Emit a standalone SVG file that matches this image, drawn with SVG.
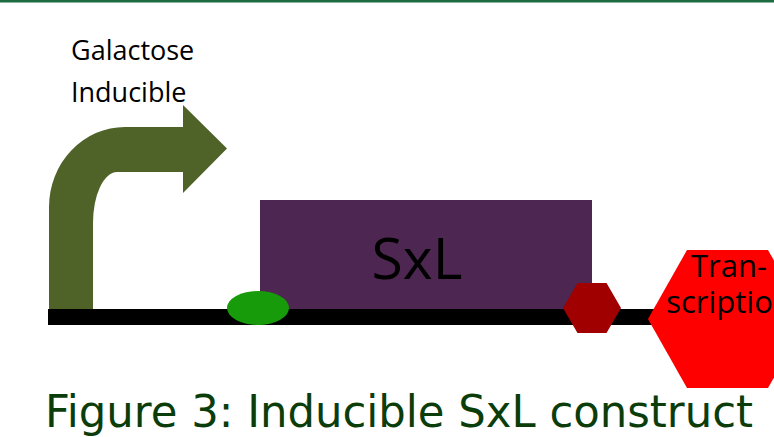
<svg xmlns="http://www.w3.org/2000/svg" width="774" height="437" viewBox="0 0 774 437">
  <style>
    .lbl { font-family: "Open Sans", "Noto Sans", "DejaVu Sans", sans-serif; fill: #000; }
    .cap { font-family: "DejaVu Sans", "Liberation Sans", sans-serif; fill: #0b3d0b; }
  </style>
  <rect width="774" height="437" fill="#fff"/>
  <!-- header rule -->
  <rect x="0" y="0" width="774" height="2.5" fill="#1d6b40"/>

  <!-- bent promoter arrow -->
  <g id="promoter">
    <path d="M49 310 L49 207 A76 80 0 0 1 125 127 L183 127 L183 105 L227 148.5 L183 193 L183 172 L117 172 A24 51 0 0 0 93 223 L93 310 Z" fill="#4f6228"/>
    <text class="lbl" x="71" y="60" font-size="27">Galactose</text>
    <text class="lbl" x="71" y="102" font-size="27">Inducible</text>
  </g>

  <!-- coding sequence -->
  <g id="sxl">
    <rect x="260" y="200" width="332" height="117" fill="#4d2752"/>
    <text class="lbl" x="417" y="279" font-size="57" text-anchor="middle">SxL</text>
  </g>

  <!-- DNA backbone -->
  <g id="connectors">
    <rect x="48" y="309" width="620" height="16" fill="#000"/>
  </g>

  <!-- ribosome binding site -->
  <g id="rbs">
    <ellipse cx="258" cy="308" rx="31" ry="17" fill="#189b0a"/>
  </g>

  <!-- stop codon -->
  <g id="stop">
    <polygon points="563,308 577.5,283 606.5,283 621,308 606.5,333 577.5,333" fill="#a00000"/>
  </g>

  <!-- terminator -->
  <g id="terminator">
    <polygon points="648,319 687,250 768,250 807,319 768,388 687,388" fill="#ff0000"/>
    <text class="lbl" x="729" y="277" font-size="31" text-anchor="middle">Tran-</text>
    <text class="lbl" x="729" y="313" font-size="31" text-anchor="middle">scription</text>
  </g>

  <text class="cap" x="45" y="427" font-size="44" textLength="708" lengthAdjust="spacingAndGlyphs">Figure 3: Inducible SxL construct</text>
</svg>
